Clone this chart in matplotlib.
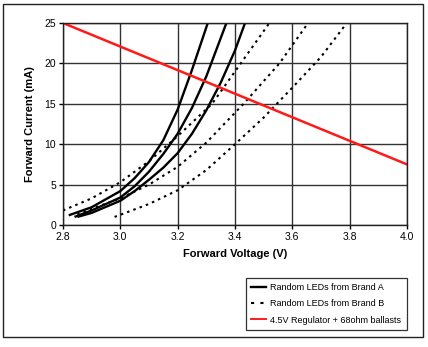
import matplotlib.pyplot as plt
from matplotlib.patches import Rectangle

plt.rcParams['font.family'] = ['Liberation Sans', 'DejaVu Sans']

# Brand A (solid) curves: voltage (V) / current (mA)
a1_v = [2.82, 2.90, 3.00, 3.05, 3.10, 3.15, 3.20, 3.25, 3.305]
a1_i = [1.2, 2.2, 4.2, 5.8, 7.8, 10.5, 14.3, 19.2, 25.0]
a2_v = [2.84, 2.90, 3.00, 3.05, 3.10, 3.15, 3.20, 3.25, 3.30, 3.37]
a2_i = [1.0, 1.8, 3.4, 4.8, 6.6, 8.8, 11.3, 14.5, 18.4, 25.0]
a3_v = [2.85, 2.90, 3.00, 3.05, 3.10, 3.15, 3.20, 3.25, 3.30, 3.35, 3.40, 3.435]
a3_i = [1.0, 1.5, 3.0, 4.2, 5.6, 7.1, 8.9, 11.3, 14.2, 17.6, 21.6, 25.0]

# Brand B (dotted) curves
b1_v = [2.80, 2.90, 3.00, 3.10, 3.20, 3.32, 3.42, 3.52]
b1_i = [1.8, 3.3, 5.3, 7.9, 11.0, 15.0, 20.0, 25.0]
b2_v = [2.85, 2.90, 3.00, 3.10, 3.20, 3.30, 3.43, 3.555, 3.655]
b2_i = [1.3, 2.0, 3.3, 5.0, 7.2, 10.2, 15.0, 20.0, 25.0]
b3_v = [2.98, 3.10, 3.20, 3.30, 3.40, 3.50, 3.60, 3.70, 3.79]
b3_i = [1.0, 2.6, 4.3, 6.8, 10.0, 13.3, 17.0, 20.8, 25.0]

# regulator load line
reg_v = [2.8, 4.0]
reg_i = [25.0, 7.5]

x_ticks = [2.8, 3.0, 3.2, 3.4, 3.6, 3.8, 4.0]
y_ticks = [0, 5, 10, 15, 20, 25]

fig = plt.figure(figsize=(4.28, 3.47), dpi=100)
ax = fig.add_axes([63 / 428, 1 - 225 / 347, 344 / 428, 202 / 347])

dots = (0, (1.2, 2.0))
for v, i in [(a1_v, a1_i), (a2_v, a2_i), (a3_v, a3_i)]:
    ax.plot(v, i, color='black', lw=1.7, solid_capstyle='butt')
for v, i in [(b1_v, b1_i), (b2_v, b2_i), (b3_v, b3_i)]:
    ax.plot(v, i, color='black', lw=1.5, linestyle=dots)
ax.plot(reg_v, reg_i, color='#ff1a1a', lw=1.8)

ax.set_xlim(2.8, 4.0)
ax.set_ylim(0, 25)
ax.set_xticks(x_ticks)
ax.set_xticklabels([f'{t:.1f}' for t in x_ticks])
ax.set_yticks(y_ticks)
ax.grid(True, color='#333333', lw=1.0)
ax.set_axisbelow(True)
ax.tick_params(direction='out', length=3, width=1, labelsize=7.5, pad=2,
               colors='black')
for s in ax.spines.values():
    s.set_color('#222222')
    s.set_linewidth(1.0)

ax.set_xlabel('Forward Voltage (V)', fontsize=8, fontweight='bold', labelpad=5)
ax.set_ylabel('Forward Current (mA)', fontsize=8, fontweight='bold', labelpad=7)

# legend box
h1, = ax.plot([], [], color='black', lw=1.7)
h2, = ax.plot([], [], color='black', lw=1.5, linestyle=(0, (1.5, 3)))
h3, = ax.plot([], [], color='#ff1a1a', lw=1.4)
leg = fig.legend([h1, h2, h3],
                 ['Random LEDs from Brand A', 'Random LEDs from Brand B',
                  '4.5V Regulator + 68ohm ballasts'],
                 loc='lower left', bbox_to_anchor=(246 / 428, 1 - 330 / 347),
                 fontsize=6.5, frameon=True, fancybox=False, handlelength=1.6,
                 handletextpad=0.5, labelspacing=0.8, borderpad=0.6,
                 borderaxespad=0)
leg.get_frame().set_edgecolor('black')
leg.get_frame().set_linewidth(0.9)

# outer border
fig.patches.append(Rectangle((3 / 428, 1 - 337 / 347), 420 / 428, 333 / 347,
                             transform=fig.transFigure, fill=False,
                             edgecolor='#222222', lw=1.0))

plt.savefig('out.png', dpi=100)
